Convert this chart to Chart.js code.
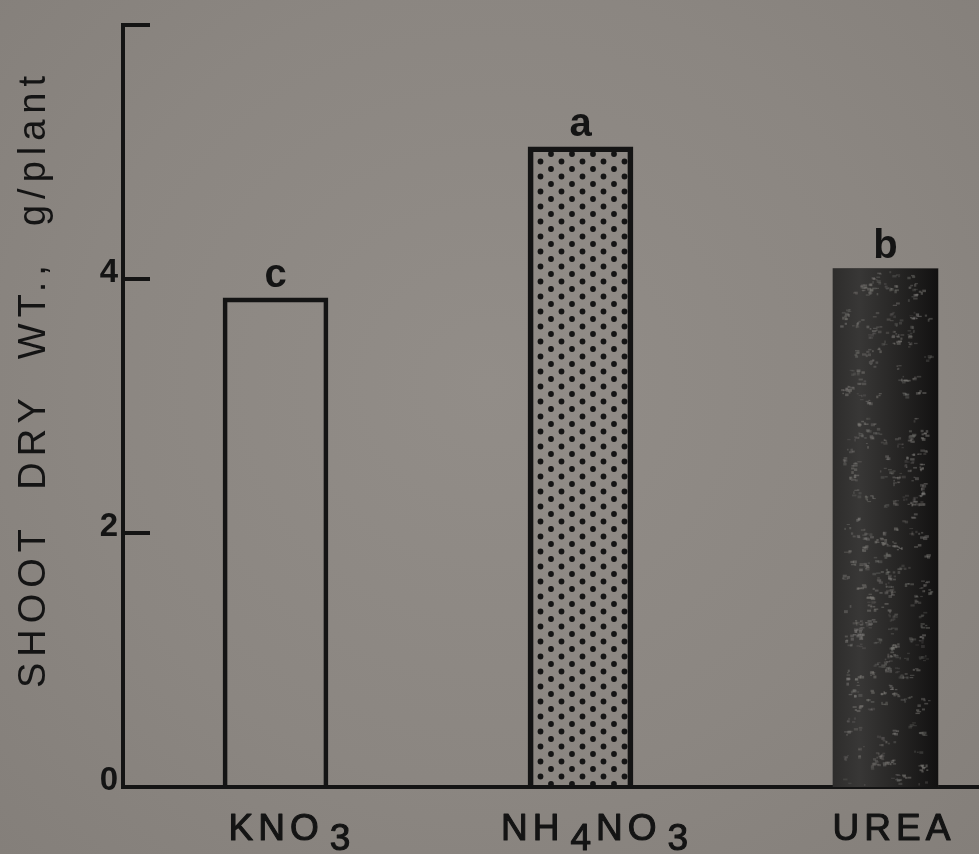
<!DOCTYPE html>
<html>
<head>
<meta charset="utf-8">
<script src="https://cdn.jsdelivr.net/npm/chart.js@4.4.0/dist/chart.umd.min.js"></script>
<style>
  html, body {
    margin: 0; padding: 0; width: 979px; height: 854px; overflow: hidden;
    background: radial-gradient(ellipse at 50% 45%, #928d88 0%, #8b8681 60%, #847f7a 100%);
  }
  #wrap { position: absolute; left: 0; top: 0; width: 1040px; height: 854px; }
</style>
</head>
<body>
<div id="wrap"><canvas id="chart" width="1040" height="854"></canvas></div>
<script>
// Shoot dry weight by nitrogen source
const categories = ['KNO3', 'NH4NO3', 'UREA'];
const shootDryWt = [3.85, 5.04, 4.08];          // g/plant
const groupLetters = ['c', 'a', 'b'];
const yTickValues = [0, 2, 4, 6];
const yTickLabels = ['0', '2', '4', ''];
const yTitle = 'SHOOT  DRY  WT.,  g/plant';

const INK = '#141414';
const FONT = '"Liberation Sans", Arial, Helvetica, sans-serif';

// Stippled fill for the ammonium nitrate bar
function dotPattern() {
  const c = document.createElement('canvas');
  c.width = 21; c.height = 15;
  const g = c.getContext('2d');
  g.fillStyle = INK;
  [[5, 4], [15.5, 11.5]].forEach(([x, y]) => {
    g.beginPath(); g.arc(x, y, 2.9, 0, Math.PI * 2); g.fill();
  });
  return g.createPattern(c, 'repeat');
}

// Mottled dark texture painted over the urea bar
const ureaTexture = {
  id: 'ureaTexture',
  afterDatasetsDraw(chart) {
    const bar = chart.getDatasetMeta(0).data[2];
    if (!bar) return;
    const { x, y, base, width } = bar.getProps(['x', 'y', 'base', 'width'], true);
    const left = x - width / 2, top = y, h = base - y;
    const ctx = chart.ctx;
    ctx.save();
    ctx.beginPath(); ctx.rect(left, top, width, h); ctx.clip();
    const grd = ctx.createLinearGradient(left, 0, left + width, 0);
    grd.addColorStop(0, '#2e2d2c');
    grd.addColorStop(0.25, '#383736');
    grd.addColorStop(0.6, '#272625');
    grd.addColorStop(1, '#121111');
    ctx.fillStyle = grd;
    ctx.fillRect(left, top, width, h);
    let seed = 1234567;
    const rnd = () => (seed = (seed * 16807) % 2147483647) / 2147483647;
    // irregular clumps of lighter grey flecks
    for (let i = 0; i < 260; i++) {
      const cx = left + width * (0.1 + 0.8 * rnd());
      const cy = top + h * rnd();
      const n = 2 + Math.floor(5 * rnd());
      const a = 0.22 + 0.3 * rnd();
      ctx.fillStyle = `rgba(125,123,120,${a.toFixed(2)})`;
      for (let k = 0; k < n; k++) {
        ctx.fillRect(cx + 8 * (rnd() - 0.5), cy + 6 * (rnd() - 0.5), 1.5 + 3 * rnd(), 1 + 2 * rnd());
      }
    }
    ctx.restore();
  }
};

// Letters above bars, inward tick marks, category labels with subscripts, rotated axis title
const annotations = {
  id: 'annotations',
  afterDraw(chart) {
    const ctx = chart.ctx;
    const area = chart.chartArea;
    const xs = chart.scales.x, ys = chart.scales.y;
    ctx.save();

    // inward tick marks on the value axis
    ctx.strokeStyle = INK; ctx.lineWidth = 4; ctx.lineCap = 'butt';
    yTickValues.forEach(v => {
      const py = Math.round(ys.getPixelForValue(v));
      ctx.beginPath(); ctx.moveTo(area.left, py); ctx.lineTo(area.left + 27, py); ctx.stroke();
    });

    // significance letters
    ctx.fillStyle = INK;
    ctx.font = 'bold 40px ' + FONT;
    ctx.textAlign = 'center'; ctx.textBaseline = 'alphabetic';
    chart.getDatasetMeta(0).data.forEach((bar, i) => {
      ctx.fillText(groupLetters[i], bar.x, bar.y - 11);
    });

    // category labels: digits are drawn as lowered subscripts
    ctx.font = '37px ' + FONT;
    ctx.textAlign = 'left';
    ctx.strokeStyle = INK; ctx.lineWidth = 1.1; ctx.lineJoin = 'round';
    const gap = 5, subGap = 6, drop = 10, baseY = 840;
    categories.forEach((label, i) => {
      const chars = label.split('');
      let total = 0;
      chars.forEach((ch, k) => {
        if (/\d/.test(ch)) total += subGap;
        total += ctx.measureText(ch).width + (k < chars.length - 1 ? gap : 0);
      });
      const trailingSub = /\d$/.test(label) ? 8 : 0;
      let px = xs.getPixelForValue(i) + 6 + trailingSub - total / 2;
      chars.forEach(ch => {
        const isSub = /\d/.test(ch);
        if (isSub) px += subGap;
        const py = baseY + (isSub ? drop : 0);
        ctx.fillText(ch, px, py);
        ctx.strokeText(ch, px, py);
        px += ctx.measureText(ch).width + gap;
      });
    });

    // rotated axis title
    ctx.translate(45, 379);
    ctx.rotate(-Math.PI / 2);
    ctx.font = '38px ' + FONT;
    ctx.letterSpacing = '6px';
    ctx.textAlign = 'center';
    ctx.fillText(yTitle, 0, 0);
    ctx.restore();
  }
};

new Chart(document.getElementById('chart'), {
  type: 'bar',
  data: {
    labels: categories,
    datasets: [{
      data: shootDryWt,
      backgroundColor: ['rgba(0,0,0,0)', dotPattern(), '#2c2b2a'],
      borderColor: [INK, INK, '#1a1919'],
      borderWidth: [4, 5, 0],
      borderSkipped: 'start',
      barThickness: 105
    }]
  },
  options: {
    responsive: false,
    animation: false,
    events: [],
    layout: { padding: { top: 23, right: 2, left: 0, bottom: 0 } },
    plugins: { legend: { display: false }, tooltip: { enabled: false }, title: { display: false } },
    scales: {
      x: {
        type: 'category',
        grid: { display: false, drawTicks: false },
        border: { display: true, color: INK, width: 4 },
        ticks: { display: false },
        afterFit(s) { s.height = 67; }
      },
      y: {
        min: 0, max: 6,
        grid: { display: false, drawTicks: false, tickLength: 0 },
        border: { display: true, color: INK, width: 4 },
        afterBuildTicks(s) { s.ticks = yTickValues.map(v => ({ value: v })); },
        ticks: {
          padding: 5,
          labelOffset: -6,
          color: INK,
          font: { family: FONT, size: 33, weight: 'bold' },
          callback: (v, i) => yTickLabels[i]
        },
        afterFit(s) { s.width = 123; }
      }
    }
  },
  plugins: [ureaTexture, annotations]
});
</script>
</body>
</html>
